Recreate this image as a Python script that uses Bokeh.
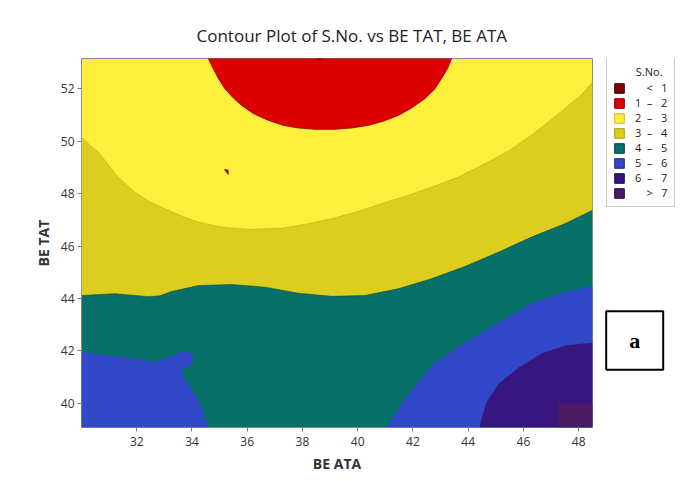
from bokeh.plotting import figure
from bokeh.layouts import row
from bokeh.models import Range1d, FixedTicker, Legend, LegendItem
from bokeh.core.properties import value
from bokeh.embed import file_html
from bokeh.resources import INLINE

# ---------------- data ----------------
TITLE = "Contour Plot of S.No. vs BE TAT, BE ATA"
X_LABEL = "BE ATA"
Y_LABEL = "BE TAT"
LEGEND_TITLE = "S.No."
PANEL_TAG = "a"
X_MIN, X_MAX = 30.0, 48.5
Y_MIN, Y_MAX = 39.08, 53.15
X_TICKS = [32, 34, 36, 38, 40, 42, 44, 46, 48]
Y_TICKS = [40, 42, 44, 46, 48, 50, 52]

LEVEL_LABELS = ["< 1", "1 – 2", "2 – 3", "3 – 4", "4 – 5", "5 – 6", "6 – 7", "> 7"]
LEVEL_COLORS = ["#7c0606", "#dc0000", "#fdef3c", "#dccd1e", "#077069", "#3149c9", "#37167f", "#4a1a62"]
LEVEL_EDGES = ["#3a0000", "#7a0000", "#c9b820", "#a89a10", "#03403c", "#1c2c88", "#1c0a48", "#250a35"]

# region 1-2 (red) boundary
RED_X = [34.59, 34.77, 34.96, 35.19, 35.50, 35.80, 36.22, 36.77, 37.31, 37.85, 38.45, 39.17,
         39.78, 40.38, 40.93, 41.47, 41.95, 42.43, 42.80, 43.03, 43.25, 43.40]
RED_Y = [53.15, 52.76, 52.38, 52.00, 51.64, 51.36, 51.05, 50.79, 50.60, 50.50, 50.45, 50.45,
         50.50, 50.60, 50.76, 50.98, 51.26, 51.62, 52.00, 52.38, 52.76, 53.15]
# boundary 2-3 / 3-4
L3_X = [30.0, 30.31, 30.61, 30.91, 31.21, 31.58, 31.94, 32.42, 33.02, 33.63, 34.23, 35.08, 36.04,
        37.25, 38.21, 39.06, 40.02, 40.86, 41.83, 42.67, 43.64, 44.48, 45.45, 46.29, 46.90,
        47.50, 48.10, 48.5]
L3_Y = [50.15, 49.84, 49.58, 49.18, 48.76, 48.37, 48.05, 47.71, 47.42, 47.14, 46.91, 46.72, 46.63,
        46.68, 46.85, 47.04, 47.32, 47.61, 47.93, 48.24, 48.63, 49.07, 49.61, 50.22, 50.73,
        51.24, 51.77, 52.25]
# boundary 3-4 / 4-5
L4_X = [30.0, 31.21, 32.42, 32.84, 33.27, 34.23, 35.44, 36.64, 37.85, 39.06, 40.26, 41.47, 42.67,
        43.88, 45.09, 46.29, 47.50, 48.5]
L4_Y = [44.11, 44.18, 44.07, 44.10, 44.27, 44.49, 44.53, 44.43, 44.20, 44.08, 44.11, 44.37, 44.75,
        45.22, 45.76, 46.34, 46.85, 47.36]
# boundary 4-5 / 5-6 (left lobe)
BLUE_L_X = [30.0, 31.21, 32.66, 33.63, 33.93, 34.09, 33.93, 33.66, 33.63, 33.87, 34.17, 34.41, 34.62]
BLUE_L_Y = [41.95, 41.82, 41.56, 41.97, 41.95, 41.73, 41.44, 41.27, 41.08, 40.74, 40.23, 39.66, 39.08]
# boundary 4-5 / 5-6 (right)
BLUE_R_X = [41.04, 41.59, 42.24, 42.75, 43.87, 45.10, 46.29, 47.48, 48.5]
BLUE_R_Y = [39.08, 39.99, 40.87, 41.51, 42.32, 43.08, 43.81, 44.23, 44.49]
# boundary 5-6 / 6-7
PURPLE_X = [44.41, 44.48, 44.66, 45.10, 45.82, 46.65, 47.48, 48.5]
PURPLE_Y = [39.08, 39.42, 40.03, 40.75, 41.36, 41.90, 42.20, 42.32]
# cell > 7
GT7_X = [47.25, 48.5]
GT7_Y = [39.08, 40.0]
# tiny < 1 spots
LT1_NOTCH_X = [38.45, 38.63, 38.81]
LT1_NOTCH_Y = [53.15, 53.05, 53.15]
LT1_SPOT_X = [35.17, 35.31, 35.32]
LT1_SPOT_Y = [48.92, 48.90, 48.72]

FONT = "Open Sans"

# ---------------- main contour figure ----------------
p = figure(frame_width=511, frame_height=369,
           x_range=Range1d(X_MIN, X_MAX), y_range=Range1d(Y_MIN, Y_MAX),
           output_backend="svg", toolbar_location=None,
           min_border_left=81, min_border_right=4, min_border_top=58, min_border_bottom=53)
p.background_fill_color = LEVEL_COLORS[2]
p.border_fill_color = "white"
p.outline_line_color = "#8c8c8c"
p.outline_line_width = 1
p.grid.visible = False

p.title.text = TITLE
p.title.align = "left"
p.title.offset = 115
p.title.standoff = 24
p.title.text_font = FONT
p.title.text_font_size = "17px"
p.title.text_font_style = "normal"
p.title.text_color = "#222222"

p.patch(L3_X + [X_MAX, X_MIN], L3_Y + [Y_MIN, Y_MIN], fill_color=LEVEL_COLORS[3], line_color=None)
p.line(L3_X, L3_Y, line_color="#c4b414", line_width=1, line_alpha=0.7)
p.patch(L4_X + [X_MAX, X_MIN], L4_Y + [Y_MIN, Y_MIN], fill_color=LEVEL_COLORS[4], line_color=None)
p.line(L4_X, L4_Y, line_color="#0b4a45", line_width=1, line_alpha=0.6)
p.patch(BLUE_L_X + [X_MIN], BLUE_L_Y + [Y_MIN], fill_color=LEVEL_COLORS[5], line_color=None)
p.patch(BLUE_R_X + [X_MAX], BLUE_R_Y + [Y_MIN], fill_color=LEVEL_COLORS[5], line_color=None)
p.patch(PURPLE_X + [X_MAX], PURPLE_Y + [Y_MIN], fill_color=LEVEL_COLORS[6], line_color=None)
p.quad(left=[GT7_X[0]], right=[GT7_X[1]], bottom=[GT7_Y[0]], top=[GT7_Y[1]],
       fill_color=LEVEL_COLORS[7], line_color=None)
p.patch(RED_X, RED_Y, fill_color=LEVEL_COLORS[1], line_color="#9a0000", line_width=0.8)
p.patch(LT1_NOTCH_X, LT1_NOTCH_Y, fill_color=LEVEL_COLORS[0], line_color=None)
p.patch(LT1_SPOT_X, LT1_SPOT_Y, fill_color=LEVEL_COLORS[0], line_color=LEVEL_COLORS[0], line_width=0.5)

for ax in (p.xaxis[0], p.yaxis[0]):
    ax.axis_line_color = None
    ax.major_tick_line_color = "#7a7a7a"
    ax.major_tick_out = 4
    ax.major_tick_in = 0
    ax.minor_tick_line_color = None
    ax.major_label_text_font = FONT
    ax.major_label_text_font_size = "12px"
    ax.major_label_text_color = "#333333"
    ax.axis_label_text_font = FONT
    ax.axis_label_text_font_size = "14px"
    ax.axis_label_text_font_style = "bold"
    ax.axis_label_text_color = "#333333"
p.xaxis[0].ticker = FixedTicker(ticks=X_TICKS)
p.yaxis[0].ticker = FixedTicker(ticks=Y_TICKS)
p.xaxis[0].axis_label = X_LABEL
p.yaxis[0].axis_label = Y_LABEL
p.yaxis[0].major_label_standoff = 3

# ---------------- side panel: legend and tag box (page-pixel coordinates) ----------------
q = figure(width=84, height=480, x_range=Range1d(596, 680), y_range=Range1d(427, 58),
           output_backend="svg", toolbar_location=None, x_axis_type=None, y_axis_type=None,
           min_border_left=0, min_border_right=0, min_border_top=58, min_border_bottom=53)
q.outline_line_color = None
q.background_fill_color = "white"
q.border_fill_color = "white"
q.grid.visible = False

NB = "\u00a0"
items = []
for lab, col, edge in zip(LEVEL_LABELS, LEVEL_COLORS, LEVEL_EDGES):
    # swatch-only renderer, parked outside the visible panel range
    r = q.rect(x=[0], y=[0], width=1, height=1, fill_color=col, line_color=edge, line_width=1)
    parts = lab.split(" ")
    if len(parts) == 2:
        txt = NB * 4 + parts[0] + NB * 3 + parts[1]
    else:
        txt = parts[0] + NB * 2 + parts[1] + NB * 3 + parts[2]
    items.append(LegendItem(label=txt, renderers=[r]))
legend = Legend(items=items, location=(10, 220), title=NB * 8 + LEGEND_TITLE,
                title_text_font=FONT, title_text_font_size="11px", title_text_font_style="normal",
                title_text_color="#222222", title_standoff=1,
                label_text_font=FONT, label_text_font_size="11px", label_text_color="#222222",
                glyph_width=12, glyph_height=12, label_height=12, label_width=26,
                label_standoff=10, spacing=0, padding=6, margin=0,
                border_line_color="#9a9a9a", border_line_width=1,
                background_fill_color="white", background_fill_alpha=1)
q.add_layout(legend, "center")

q.quad(left=[605.7], right=[662.7], top=[310.7], bottom=[369.3],
       fill_color="white", line_color="black", line_width=2)
q.text(x=[634.2], y=[340], text=[PANEL_TAG], text_align="center", text_baseline="middle",
       text_font=value("Liberation Serif"), text_font_style="bold", text_font_size="22px",
       text_color="black")

layout = row(p, q)
open("out.html", "w").write(file_html(layout, INLINE))
